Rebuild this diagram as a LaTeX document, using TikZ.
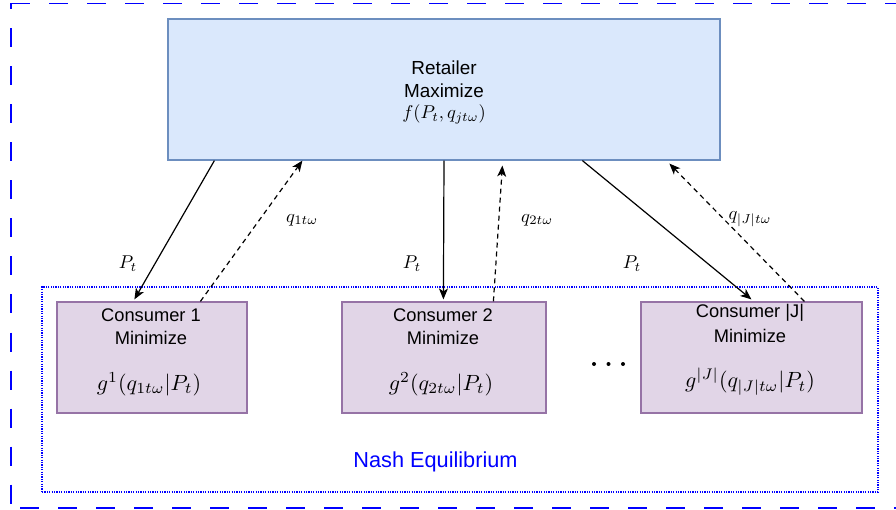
\documentclass[tikz,border=0pt]{standalone}
\usepackage{fontspec}
\newfontfamily\arialf{Liberation Sans}
\usetikzlibrary{arrows.meta,calc}
\definecolor{retfill}{HTML}{DAE8FC}
\definecolor{retdraw}{HTML}{6C8EBF}
\definecolor{conFill}{HTML}{E1D5E7}
\definecolor{conDraw}{HTML}{9673A6}
\definecolor{nashblue}{HTML}{0000FF}
\newcommand{\mlab}[1]{\scalebox{1.85}{$#1$}}
\newcommand{\mcon}[1]{\scalebox{2.2}{$#1$}}
\tikzset{
  retbox/.style={draw=retdraw, fill=retfill, line width=1.2pt, minimum width=552pt, minimum height=141pt, inner sep=0pt},
  conbox/.style={draw=conDraw, fill=conFill, line width=1.2pt, minimum height=111pt, inner sep=0pt},
  txt/.style={font=\arialf\fontsize{18.3}{21}\selectfont, inner sep=0pt, align=center},
  rtxt/.style={font=\arialf\fontsize{18.9}{21}\selectfont, inner sep=0pt, align=center},
  mth/.style={inner sep=0pt, font=\normalsize},
  flow/.style={line width=1.2pt, -{Stealth[length=11pt,width=9pt,inset=3pt]}},
  back/.style={flow, dash pattern=on 5pt off 4pt},
  frame/.style={nashblue, line width=1.5pt, dash pattern=on 19pt off 19pt},
}
\begin{document}
\begin{tikzpicture}[x=1pt,y=-1pt]
\useasboundingbox (0,0) rectangle (896,510);
\clip (0,0) rectangle (896,510);
% outer dashed frame
\coordinate (ftl) at (11,3.5);
\coordinate (fbl) at (11,508);
\coordinate (ftr) at (910,3.5);
\coordinate (fbr) at (910,508);
\draw[frame, dash phase=0pt] (ftl) -- (ftr);
\draw[frame, dash phase=13pt] (ftl) -- (fbl);
\draw[frame, dash phase=29pt] (fbl) -- (fbr);
% Nash equilibrium region
\node[draw=nashblue, line width=1.2pt, dash pattern=on 1.2pt off 1.2pt, minimum width=836pt, minimum height=205pt, inner sep=0pt] (nash) at (460,389.5) {};
\node[font=\arialf\fontsize{21.7}{24}\selectfont, text=nashblue, inner sep=0pt] (nashlbl) at (435.5,462) {Nash Equilibrium};
% retailer
\node[retbox] (ret) at (444,89.5) {};
\node[rtxt] (rt1) at (444,68) {Retailer};
\node[rtxt] (rt2) at (444,91) {Maximize};
\node[mth] (rt3) at (444,114) {\mlab{f(P_t, q_{jt\omega})}};
% consumers
\node[conbox, minimum width=190pt] (c1) at (152,357.5) {};
\node[conbox, minimum width=204pt] (c2) at (444,357.5) {};
\node[conbox, minimum width=221pt] (cj) at (751.5,357.5) {};
\node[txt] (c1a) at (151,315) {Consumer 1};
\node[txt] (c1b) at (151,338) {Minimize};
\node[mth] (c1c) at (149,384) {\mcon{g^1(q_{1t\omega}|P_t)}};
\node[txt] (c2a) at (443,315) {Consumer 2};
\node[txt] (c2b) at (443,338) {Minimize};
\node[mth] (c2c) at (441,384) {\mcon{g^2(q_{2t\omega}|P_t)}};
\node[txt] (cja) at (750,313) {Consumer |J|};
\node[txt] (cjb) at (750,336) {Minimize};
\node[mth] (cjc) at (750,382) {\mcon{g^{|J|}(q_{|J|t\omega}|P_t)}};
% dots
\fill (594,364) circle (2pt) (608.5,364) circle (2pt) (623,364) circle (2pt);
% connector end points
\coordinate (r1) at ([xshift=47pt]ret.south west);
\coordinate (r2) at ([xshift=135pt]ret.south west);
\coordinate (r3) at (ret.south);
\coordinate (r4) at ([xshift=335pt,yshift=-5pt]ret.south west);
\coordinate (r5) at ([xshift=415pt]ret.south west);
\coordinate (r6) at ([xshift=502pt,yshift=-3pt]ret.south west);
\coordinate (k1) at ([xshift=78pt,yshift=2pt]c1.north west);
\coordinate (k2) at ([xshift=144pt]c1.north west);
\coordinate (k3) at ([xshift=102pt,yshift=2pt]c2.north west);
\coordinate (k4) at ([xshift=152pt]c2.north west);
\coordinate (k5) at ([xshift=111pt,yshift=2pt]cj.north west);
\coordinate (k6) at ([xshift=164pt]cj.north west);
\draw[flow] (r1) -- (k1);
\draw[back] (k2) -- (r2);
\draw[flow] (r3) -- (k3);
\draw[back] (k4) -- (r4);
\draw[flow] (r5) -- (k5);
\draw[back] (k6) -- (r6);
% labels
\node[mth] (p1) at (128,264) {\mlab{P_t}};
\node[mth] (q1) at (302,220) {\mlab{q_{1t\omega}}};
\node[mth] (p2) at (412,264) {\mlab{P_t}};
\node[mth] (q2) at (537,220) {\mlab{q_{2t\omega}}};
\node[mth] (p3) at (632,264) {\mlab{P_t}};
\node[mth] (q3) at (750,219) {\mlab{q_{|J|t\omega}}};
\end{tikzpicture}
\end{document}
